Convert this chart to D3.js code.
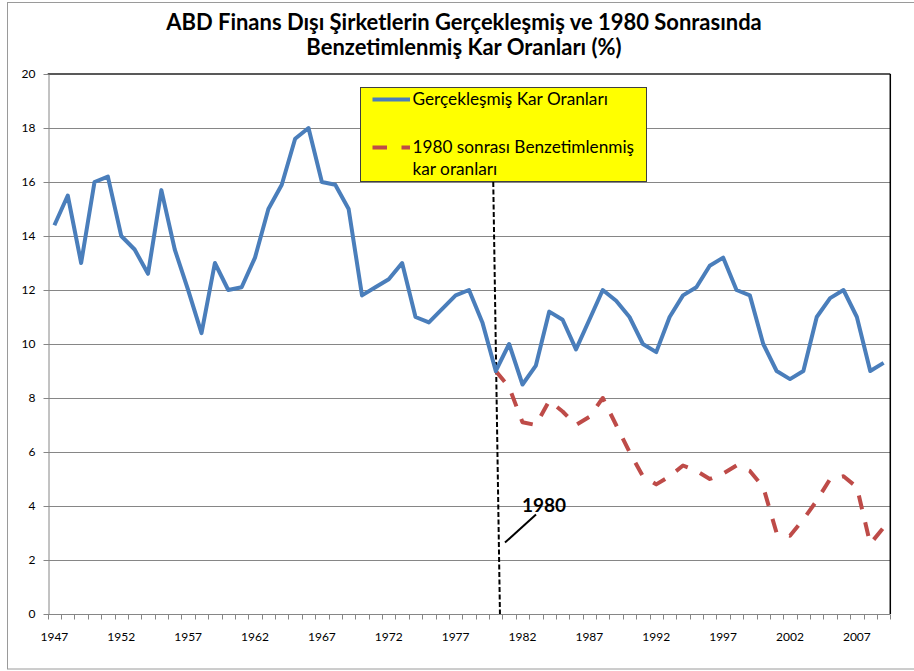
<!DOCTYPE html>
<html>
<head>
<meta charset="utf-8">
<script src="https://cdn.jsdelivr.net/npm/d3@7"></script>
<style>
  body { margin: 0; background: #fff; }
  svg { display: block; font-family: Lato, 'Noto Sans', sans-serif; }
</style>
</head>
<body>
<svg id="chart" width="914" height="671"></svg>
<script>
// categories
const years = d3.range(1947, 2010);
const simYears = d3.range(1980, 2010);

// series values
const actualRates = [
  14.4, 15.5, 13.0, 16.0, 16.2, 14.0, 13.5, 12.6, 15.7, 13.5,
  12.0, 10.4, 13.0, 12.0, 12.1, 13.2, 15.0, 15.9, 17.6, 18.0,
  16.0, 15.9, 15.0, 11.8, 12.1, 12.4, 13.0, 11.0, 10.8, 11.3,
  11.8, 12.0, 10.8, 9.0, 10.0, 8.5, 9.2, 11.2, 10.9, 9.8,
  10.9, 12.0, 11.6, 11.0, 10.0, 9.7, 11.0, 11.8, 12.1, 12.9,
  13.2, 12.0, 11.8, 10.0, 9.0, 8.7, 9.0, 11.0, 11.7, 12.0,
  11.0, 9.0, 9.3
];
const simulatedRates = [
  9.0, 8.4, 7.1, 7.0, 7.9, 7.5, 7.0, 7.3, 8.0, 7.0,
  6.0, 5.1, 4.8, 5.1, 5.5, 5.3, 5.0, 5.2, 5.5, 5.3,
  4.7, 3.0, 2.9, 3.5, 4.2, 5.0, 5.1, 4.7, 2.6, 3.2
];

// tick labels and texts
const yTicks = [0, 2, 4, 6, 8, 10, 12, 14, 16, 18, 20];
const xLabelYears = [1947, 1952, 1957, 1962, 1967, 1972, 1977, 1982, 1987, 1992, 1997, 2002, 2007];
const titleLines = [
  'ABD Finans Dışı Şirketlerin Gerçekleşmiş ve 1980 Sonrasında',
  'Benzetimlenmiş Kar Oranları (%)'
];
const legendActual = 'Gerçekleşmiş Kar Oranları';
const legendSimulated = ['1980 sonrası Benzetimlenmiş', 'kar oranları'];
const markerYear = 1980;

const blue = '#4a7ebb';
const red = '#be4b48';
const gridColor = '#868686';

const svg = d3.select('#chart');
const plot = { left: 47.7, right: 890.3, top: 74, bottom: 614 };

const x = d3.scaleBand().domain(years).range([plot.left, plot.right]);
const y = d3.scaleLinear().domain([0, 20]).range([plot.bottom, plot.top]);
const cx = d => x(d) + x.bandwidth() / 2;

// scale a text so its width matches the one in the picture
const fitWidth = (sel, target) => {
  const w = sel.node().getComputedTextLength();
  const fs = parseFloat(sel.attr('font-size'));
  return fs * target / w;
};

// chart area frame
svg.append('rect')
  .attr('x', 7.5).attr('y', 2.5)
  .attr('width', 930).attr('height', 666.5)
  .attr('fill', '#fff')
  .attr('stroke', '#9a9a9a');

// title
const title = svg.append('g')
  .attr('font-weight', 'bold')
  .attr('text-anchor', 'middle')
  .attr('fill', '#000');
const t1 = title.append('text')
  .attr('x', 464).attr('y', 30)
  .attr('font-size', 20)
  .text(titleLines[0]);
const titleSize = fitWidth(t1, 596);
t1.attr('font-size', titleSize);
title.append('text')
  .attr('x', 464).attr('y', 54.5)
  .attr('font-size', titleSize)
  .text(titleLines[1]);

// gridlines
svg.append('g')
  .selectAll('line')
  .data(yTicks.filter(d => d > 0 && d < 20))
  .join('line')
  .attr('x1', plot.left).attr('x2', plot.right)
  .attr('y1', d => Math.round(y(d)) + 0.5)
  .attr('y2', d => Math.round(y(d)) + 0.5)
  .attr('stroke', gridColor)
  .attr('stroke-width', 1);

// plot area border: top and right
svg.append('line')
  .attr('x1', plot.left).attr('x2', plot.right)
  .attr('y1', y(20)).attr('y2', y(20))
  .attr('stroke', '#595959').attr('stroke-width', 2);
svg.append('line')
  .attr('x1', plot.right).attr('x2', plot.right)
  .attr('y1', y(20)).attr('y2', plot.bottom)
  .attr('stroke', '#000').attr('stroke-width', 1.5);

// y axis
const axisFont = 12;
const yAxis = svg.append('g')
  .attr('transform', `translate(${Math.round(plot.left) + 0.5},0)`)
  .call(d3.axisLeft(y).tickValues(yTicks).tickSize(5).tickSizeOuter(0).tickPadding(8));
yAxis.select('.domain').attr('stroke', gridColor);
yAxis.selectAll('.tick line').attr('stroke', gridColor);
yAxis.selectAll('.tick text')
  .attr('font-family', 'Lato, sans-serif')
  .attr('font-size', axisFont)
  .attr('fill', '#000');

// x axis: ticks on category boundaries, labels every five years
const xAxis = svg.append('g')
  .attr('transform', `translate(0,${Math.round(plot.bottom) + 0.5})`);
xAxis.append('line')
  .attr('x1', plot.left).attr('x2', plot.right)
  .attr('stroke', gridColor);
xAxis.selectAll('.bound')
  .data(years.map(d => x(d)).concat([plot.right]))
  .join('line')
  .attr('class', 'bound')
  .attr('x1', d => Math.round(d) + 0.5).attr('x2', d => Math.round(d) + 0.5)
  .attr('y1', 0).attr('y2', 5)
  .attr('stroke', gridColor);
xAxis.call(d3.axisBottom(x).tickValues(xLabelYears).tickSize(0).tickPadding(18))
  .select('.domain').remove();
xAxis.selectAll('.tick text')
  .attr('font-family', 'Lato, sans-serif')
  .attr('font-size', axisFont)
  .attr('fill', '#000');

// 1980 marker line
svg.append('line')
  .attr('x1', cx(markerYear) - 2.5).attr('y1', 182)
  .attr('x2', cx(markerYear) + 4.2).attr('y2', plot.bottom)
  .attr('stroke', '#000')
  .attr('stroke-width', 2)
  .attr('stroke-dasharray', '5,2.5');

// series lines
const actualData = years.map((d, i) => ({ year: d, value: actualRates[i] }));
const simData = simYears.map((d, i) => ({ year: d, value: simulatedRates[i] }));
const line = d3.line().x(d => cx(d.year)).y(d => y(d.value));

svg.append('path')
  .datum(simData)
  .attr('d', line)
  .attr('fill', 'none')
  .attr('stroke', red)
  .attr('stroke-width', 4)
  .attr('stroke-dasharray', '14,13.5')
  .attr('stroke-linejoin', 'round');

svg.append('path')
  .datum(actualData)
  .attr('d', line)
  .attr('fill', 'none')
  .attr('stroke', blue)
  .attr('stroke-width', 4)
  .attr('stroke-linejoin', 'round');

// legend
const legend = svg.append('g');
legend.append('rect')
  .attr('x', 360.5).attr('y', 87.5)
  .attr('width', 286).attr('height', 94)
  .attr('fill', '#ffff00')
  .attr('stroke', '#404040');
legend.append('line')
  .attr('x1', 372.5).attr('x2', 410)
  .attr('y1', 99.5).attr('y2', 99.5)
  .attr('stroke', blue).attr('stroke-width', 4);
legend.append('line')
  .attr('x1', 372.5).attr('x2', 410)
  .attr('y1', 147.5).attr('y2', 147.5)
  .attr('stroke', red).attr('stroke-width', 4)
  .attr('stroke-dasharray', '14.5,14.5');
const l1 = legend.append('text')
  .attr('x', 412.5).attr('y', 105)
  .attr('font-size', 16)
  .text(legendActual);
const legendSize = fitWidth(l1, 195.5);
l1.attr('font-size', legendSize);
legend.selectAll('.sim')
  .data(legendSimulated)
  .join('text')
  .attr('class', 'sim')
  .attr('x', 412.5)
  .attr('y', (d, i) => 153 + i * 22)
  .attr('font-size', legendSize)
  .text(d => d);

// 1980 annotation
svg.append('text')
  .attr('x', 522).attr('y', 511.5)
  .attr('font-size', 19)
  .attr('font-weight', 'bold')
  .text(String(markerYear));
svg.append('line')
  .attr('x1', 536).attr('y1', 514.5)
  .attr('x2', 505).attr('y2', 542.5)
  .attr('stroke', '#000')
  .attr('stroke-width', 2);
</script>
</body>
</html>
